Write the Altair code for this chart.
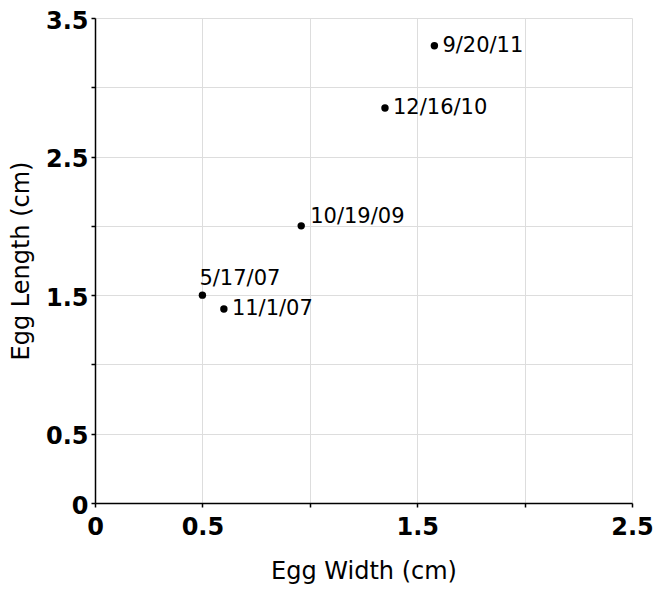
import altair as alt
import pandas as pd

dates = ["5/17/07", "11/1/07", "10/19/09", "12/16/10", "9/20/11"]
egg_width = [0.50, 0.60, 0.96, 1.35, 1.58]
egg_length = [1.50, 1.40, 2.00, 2.85, 3.30]

x_ticks = [0, 0.5, 1, 1.5, 2, 2.5]
y_ticks = [0, 0.5, 1, 1.5, 2, 2.5, 3, 3.5]

df = pd.DataFrame({"date": dates, "w": egg_width, "l": egg_length})

FONT = "DejaVu Sans"

x_enc = alt.X("w:Q", scale=alt.Scale(domain=[0, 2.5], nice=False, zero=False),
              axis=alt.Axis(values=x_ticks, title="Egg Width (cm)",
                            labelExpr="(datum.value == 1 || datum.value == 2) ? '' : datum.label",
                            format="~g", labelPadding=8, titlePadding=20))
y_enc = alt.Y("l:Q", scale=alt.Scale(domain=[0, 3.5], nice=False, zero=False),
              axis=alt.Axis(values=y_ticks, title="Egg Length (cm)",
                            labelExpr="(datum.value == 1 || datum.value == 2 || datum.value == 3) ? '' : datum.label",
                            format="~g", labelPadding=3, labelOffset=3, titlePadding=12))

base = alt.Chart(df).encode(x=x_enc, y=y_enc)

points = base.mark_circle(size=55, color="black", opacity=1)

lab_above = base.mark_text(align="left", baseline="alphabetic", dx=-3, dy=-10,
                           fontSize=21, font=FONT, color="black").encode(text="date:N").transform_filter(
    alt.datum.date == "5/17/07")
lab_up = base.mark_text(align="left", baseline="middle", dx=9, dy=-9,
                        fontSize=21, font=FONT, color="black").encode(text="date:N").transform_filter(
    alt.datum.date == "10/19/09")
lab_right = base.mark_text(align="left", baseline="middle", dx=8, dy=0,
                           fontSize=21, font=FONT, color="black").encode(text="date:N").transform_filter(
    (alt.datum.date != "10/19/09") & (alt.datum.date != "5/17/07"))

chart = alt.layer(points, lab_above, lab_up, lab_right).properties(
    width=537, height=485,
    autosize=alt.AutoSizeParams(type="none"),
    padding={"left": 87, "top": 10, "right": 21, "bottom": 86},
).configure_view(stroke=None).configure_axis(
    domainColor="black", domainWidth=1.5, tickColor="black", tickSize=4, tickWidth=1.5,
    gridColor="#dddddd", gridWidth=1,
    labelFont=FONT, labelFontSize=24, labelFontWeight="bold", labelColor="black",
    titleFont=FONT, titleFontSize=24, titleFontWeight="normal", titleColor="black",
    labelFlush=False, labelOverlap=False,
)

chart.save("out.html", embed_options={"renderer": "svg", "actions": False})
